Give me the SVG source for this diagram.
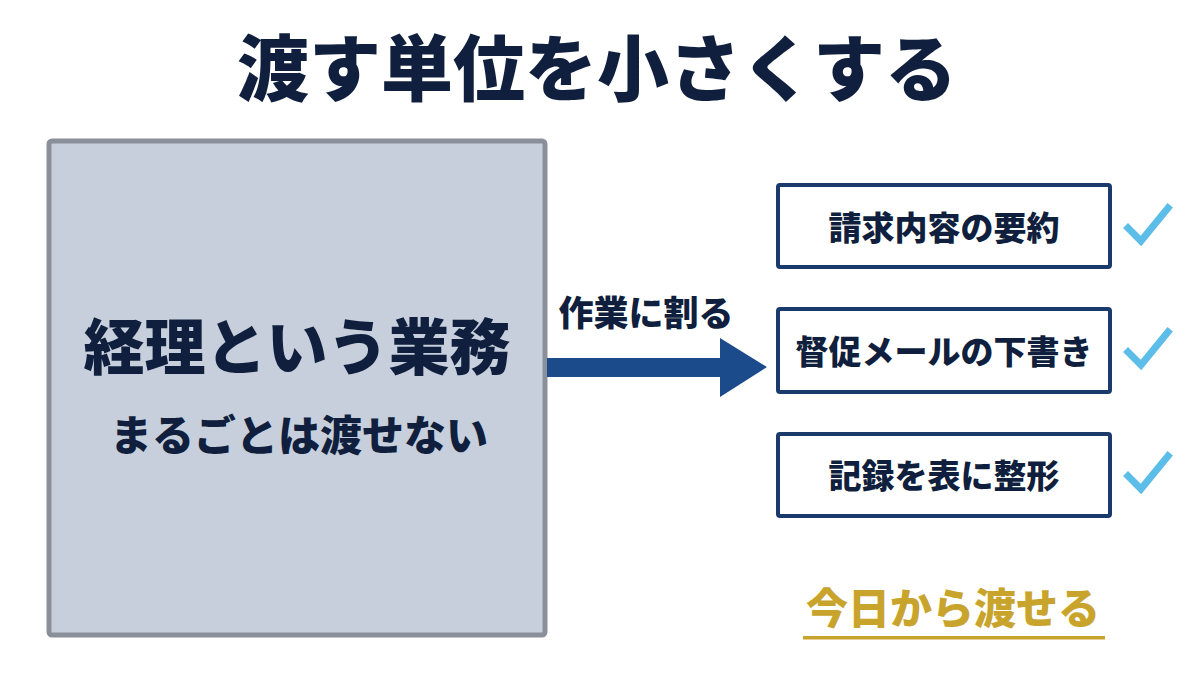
<svg xmlns="http://www.w3.org/2000/svg" width="1200" height="691" viewBox="0 0 1200 691">
<style>
text{font-family:"Noto Sans CJK JP","Noto Sans CJK SC",sans-serif;font-weight:900;text-anchor:middle}
.navy{fill:#0f1f3d}
.task{fill:#ffffff;stroke:#1b3a6c;stroke-width:4}
.tt{font-size:33px;fill:#0f1f3d}
.chk{fill:none;stroke:#5bbde8;stroke-width:7;stroke-linecap:square}
</style>
<rect width="1200" height="691" fill="#ffffff"/>
<text x="597" y="95" font-size="72" class="navy">渡す単位を小さくする</text>
<g id="whole">
<rect x="49" y="141" width="496" height="494" rx="3" fill="#c6cfdb" stroke="#8a9099" stroke-width="5"/>
<text x="297" y="370" font-size="61" class="navy">経理という業務</text>
<text x="299" y="451" font-size="42" class="navy">まるごとは渡せない</text>
</g>
<g id="connectors">
<polygon points="547,358 720,358 720,338 767,367 720,397 720,377 547,377" fill="#1c4b8c"/>
<text x="646" y="326" font-size="35" class="navy">作業に割る</text>
</g>
<g id="task1">
<rect x="778" y="185" width="332" height="82" rx="2" class="task"/>
<text x="944" y="240" class="tt">請求内容の要約</text>
<polyline points="1128,228 1141,241 1168,208" class="chk"/>
</g>
<g id="task2">
<rect x="778" y="309" width="332" height="83" rx="2" class="task"/>
<text x="944" y="364" class="tt">督促メールの下書き</text>
<polyline points="1128,352 1141,365 1168,332" class="chk"/>
</g>
<g id="task3">
<rect x="778" y="434" width="332" height="82" rx="2" class="task"/>
<text x="944" y="488" class="tt">記録を表に整形</text>
<polyline points="1128,476 1141,489 1168,456" class="chk"/>
</g>
<g id="today">
<text x="953" y="624" font-size="42" fill="#c9a42c">今日から渡せる</text>
<rect x="803" y="636" width="302" height="3.5" fill="#c9a42c"/>
</g>
</svg>
